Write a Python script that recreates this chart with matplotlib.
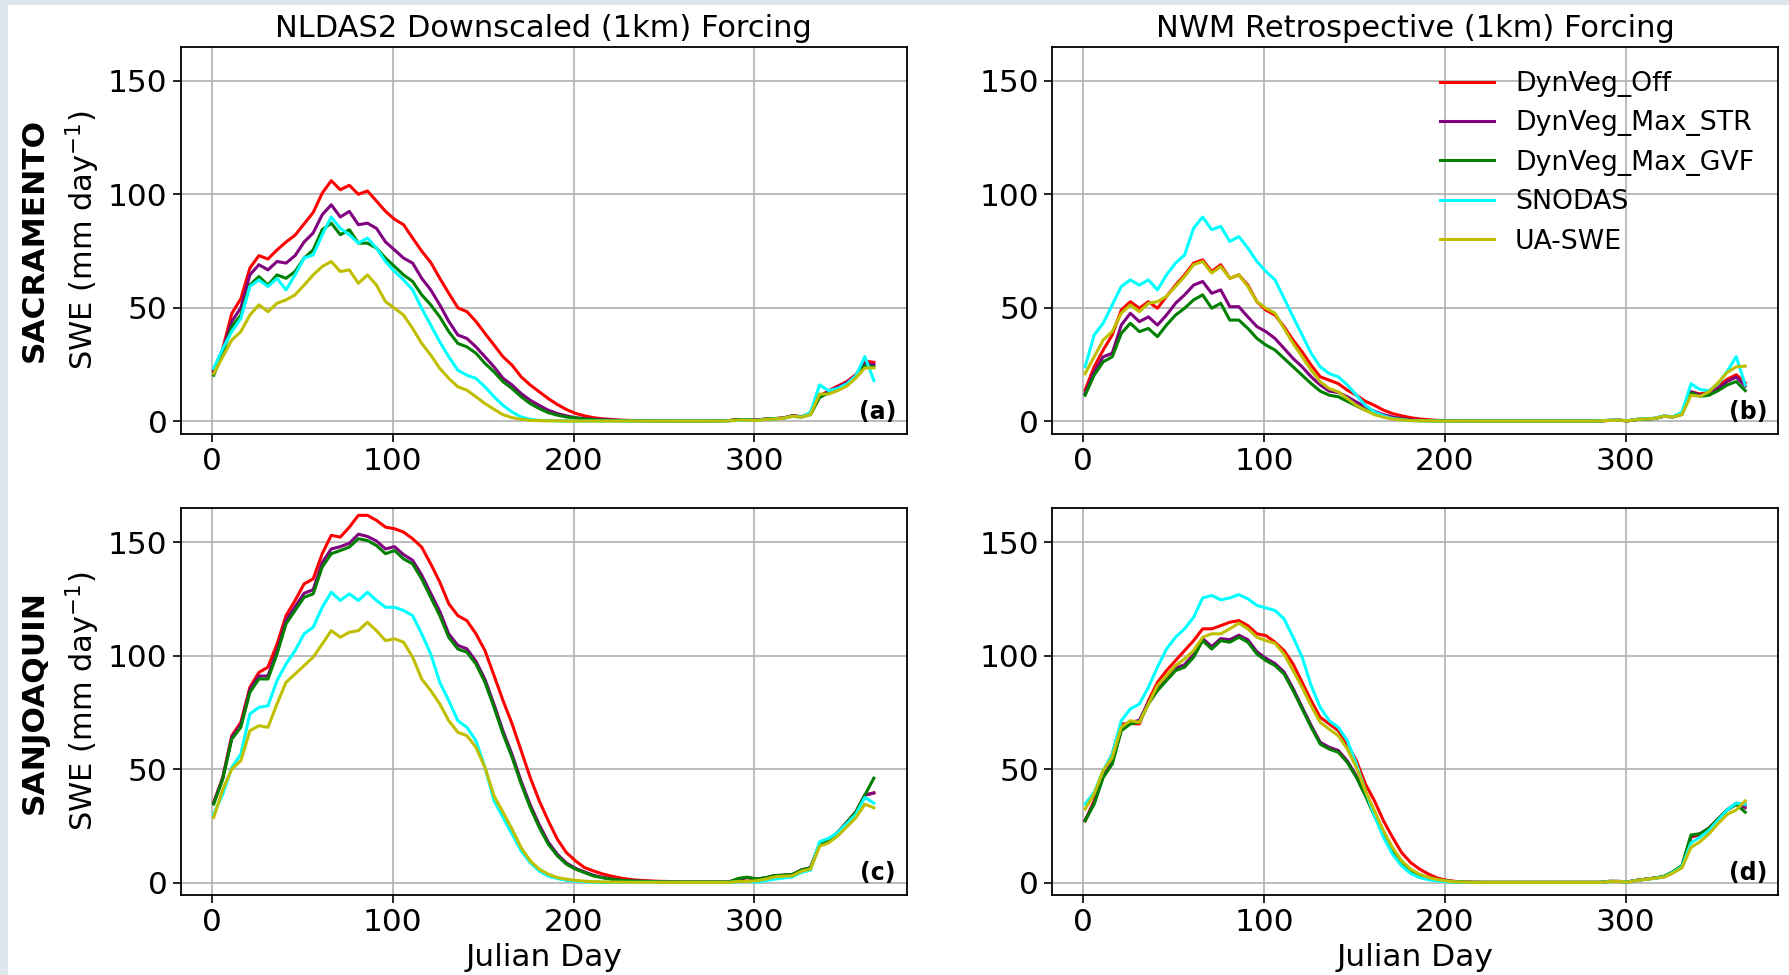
import numpy as np
import matplotlib
matplotlib.use("Agg")
import matplotlib.pyplot as plt
from matplotlib.patches import Rectangle

# Julian day of each sample (every 5th day)
days = np.arange(1, 367, 5)

series_names = ["DynVeg_Off", "DynVeg_Max_STR", "DynVeg_Max_GVF", "SNODAS", "UA-SWE"]
series_colors = ["red", "purple", "green", "cyan", "y"]
col_titles = ["NLDAS2 Downscaled (1km) Forcing", "NWM Retrospective (1km) Forcing"]
row_names = ["SACRAMENTO", "SANJOAQUIN"]
panel_tags = ["(a)", "(b)", "(c)", "(d)"]

# ---- SACRAMENTO, NLDAS2 forcing (a)
nld_sac_off = [22.5, 32, 47.5, 54, 67.5, 73, 71.5, 75.5, 79, 82, 87, 92, 100.5, 106, 102, 104, 100, 101.5, 97, 92.5,
               89, 86.6, 80.7, 75, 70, 63, 56.4, 50, 48.3, 44, 38.7, 33.6, 28.4, 24.7, 19.6, 16, 13, 10, 7.4, 5.2,
               3.5, 2.4, 1.6, 1.1, 0.8, 0.5, 0.4, 0.3, 0.2, 0.2, 0.1, 0.1, 0.1, 0.1, 0.1, 0.1, 0.2, 0.3,
               0.8, 0.6, 0.5, 1.0, 1.2, 1.5, 2.5, 2.0, 3.5, 11, 13.5, 15.5, 17.5, 20.5, 26.5, 26]
nld_sac_str = [21.8, 31, 44, 50, 64.5, 69, 66.7, 70.4, 69.7, 73, 79, 83, 91, 95.4, 90, 92.5, 86.6, 87.3, 85, 79,
               75.5, 71.9, 69.7, 63, 57.9, 51.3, 44, 38, 36.5, 32.8, 28.4, 24, 18.9, 16, 12.2, 9.3, 7, 4.9, 3.4, 2.4,
               1.6, 1.2, 0.9, 0.7, 0.5, 0.4, 0.3, 0.2, 0.2, 0.1, 0.1, 0.1, 0.1, 0.1, 0.1, 0.1, 0.2, 0.3,
               0.7, 0.6, 0.5, 0.9, 1.1, 1.4, 2.4, 2.0, 3.3, 11, 13, 15, 17, 20, 25.5, 25]
nld_sac_gvf = [20.3, 30, 41.7, 46.8, 60, 63.8, 60, 64.5, 63, 66, 71.9, 75.5, 84.4, 87.3, 82.2, 84.4, 78.5, 78.5, 76.3, 71.9,
               68.2, 64.5, 61.6, 55.7, 51.3, 46, 39.5, 34.3, 32.8, 30, 25.5, 21.8, 17.4, 14.4, 10.8, 7.8, 5.6, 3.8, 2.7, 1.9,
               1.5, 1.0, 0.7, 0.5, 0.4, 0.3, 0.2, 0.2, 0.1, 0.1, 0.1, 0.1, 0.1, 0.1, 0.1, 0.1, 0.2, 0.3,
               0.8, 0.7, 0.5, 1.0, 1.2, 1.4, 2.3, 1.9, 3.0, 10.5, 12.5, 14, 16, 19.5, 24.5, 24]
nld_sac_snodas = [23.3, 32, 39.5, 45.4, 59.4, 62.3, 59.4, 63, 57.9, 64.5, 71.9, 73.3, 82.2, 90, 85, 82.2, 78.5, 80.7, 76.3, 70.4,
                  66, 62.3, 57.9, 49.8, 42.4, 35, 28.4, 22.5, 20.3, 18.9, 15.2, 10.8, 7, 4.1, 1.9, 0.9, 0.4, 0.3, 0.2, 0.2,
                  0.1, 0.1, 0.1, 0.1, 0.1, 0.1, 0.1, 0.1, 0.1, 0.1, 0.1, 0.1, 0.1, 0.1, 0.1, 0.1, 0.1, 0.2,
                  0.4, 0.5, 0.3, 0.8, 1.0, 1.3, 2.2, 1.8, 4.0, 16, 13.5, 14.5, 16.5, 20, 28.5, 18]
nld_sac_ua = [21, 28.4, 35.8, 39.5, 46.8, 51.3, 48.3, 52, 53.5, 55.7, 60, 64.5, 68.2, 70.4, 66, 66.7, 60.8, 64.5, 60, 52.7,
              49.8, 46.8, 40.9, 34.3, 29.2, 23.3, 18.9, 15.2, 13.7, 10.8, 7.8, 5.3, 2.9, 1.6, 0.9, 0.4, 0.3, 0.2, 0.2, 0.1,
              0.1, 0.1, 0.1, 0.1, 0.1, 0.1, 0.1, 0.1, 0.1, 0.1, 0.1, 0.1, 0.1, 0.1, 0.1, 0.1, 0.1, 0.2,
              0.5, 0.5, 0.3, 0.8, 1.0, 1.3, 2.2, 1.8, 3.0, 12, 12, 13.5, 15.5, 19, 23.5, 23.5]

# ---- SACRAMENTO, NWM forcing (b)
nwm_sac_off = [13.7, 24, 31.4, 38, 49, 52.7, 49.8, 52.7, 49.8, 55, 60, 64.5, 69.7, 71.1, 66, 69, 63, 64.5, 60, 52.7,
               49, 46.8, 41.7, 35.8, 30.6, 24.7, 19.6, 18.1, 16.6, 13.7, 11.5, 8.8, 7, 4.9, 3.4, 2.4, 1.6, 1, 0.7, 0.4,
               0.3, 0.2, 0.2, 0.1, 0.1, 0.1, 0.1, 0.1, 0.1, 0.1, 0.1, 0.1, 0.1, 0.1, 0.1, 0.1, 0.1, 0.2,
               0.4, 0.5, 0.2, 0.8, 1.0, 1.3, 2.3, 2.0, 3.5, 13, 12, 13, 15.5, 18.5, 20.5, 17]
nwm_sac_str = [12.2, 21.8, 28.4, 30, 42.4, 47.6, 43.9, 46, 42.4, 46.8, 52, 55.7, 60, 61.6, 56.4, 57.9, 50.5, 50.5, 46, 41.7,
               39.5, 36.5, 32.1, 27.7, 24, 19.6, 16, 13.3, 12.7, 10.8, 8.5, 6.3, 4.4, 2.9, 1.9, 1.2, 0.7, 0.4, 0.3, 0.2,
               0.2, 0.1, 0.1, 0.1, 0.1, 0.1, 0.1, 0.1, 0.1, 0.1, 0.1, 0.1, 0.1, 0.1, 0.1, 0.1, 0.1, 0.2,
               0.4, 0.5, 0.2, 0.8, 1.0, 1.3, 2.2, 2.0, 3.3, 13, 11.5, 12.5, 14.5, 17.5, 19.5, 15.5]
nwm_sac_gvf = [11.5, 20.3, 26.2, 28.4, 38.7, 43.2, 39.5, 40.9, 37.3, 42.4, 46.8, 49.8, 53.5, 55.7, 49.8, 52, 44.6, 44.6, 40.9, 36.5,
               33.6, 31.4, 27.7, 24, 20.3, 16.6, 13.3, 11.5, 10.8, 8.8, 6.8, 4.9, 3.4, 2.2, 1.3, 0.9, 0.4, 0.3, 0.2, 0.2,
               0.1, 0.1, 0.1, 0.1, 0.1, 0.1, 0.1, 0.1, 0.1, 0.1, 0.1, 0.1, 0.1, 0.1, 0.1, 0.1, 0.1, 0.2,
               0.4, 0.5, 0.2, 0.8, 1.0, 1.2, 2.2, 1.9, 3.0, 12.5, 11, 11.5, 13.5, 16, 17.5, 13.5]
nwm_sac_snodas = [24, 38, 43.2, 51.3, 59.4, 62.3, 60, 62.3, 57.9, 64.5, 69.7, 73.3, 85.1, 90, 84.4, 85.9, 79.2, 81.4, 76.3, 70.4,
                  66, 62.3, 54.2, 46, 38, 29.9, 24, 21, 19.6, 16, 11.5, 7, 4.1, 2.4, 1.2, 0.7, 0.3, 0.2, 0.2, 0.1,
                  0.1, 0.1, 0.1, 0.1, 0.1, 0.1, 0.1, 0.1, 0.1, 0.1, 0.1, 0.1, 0.1, 0.1, 0.1, 0.1, 0.1, 0.2,
                  0.5, 0.5, 0.3, 0.9, 1.1, 1.4, 2.4, 2.0, 4.0, 16.5, 14, 13.5, 16.5, 22, 28.5, 16]
nwm_sac_ua = [21, 28.4, 35.8, 39.5, 47.6, 51.3, 48.3, 52, 52.7, 55, 59.4, 63.8, 69, 70.4, 65.3, 68.2, 63, 64.5, 59.4, 52.7,
              49.8, 47.6, 40.9, 34.3, 28.4, 22.5, 17.4, 14.4, 13, 10, 7, 4.9, 2.9, 1.8, 1, 0.6, 0.3, 0.2, 0.2, 0.1,
              0.1, 0.1, 0.1, 0.1, 0.1, 0.1, 0.1, 0.1, 0.1, 0.1, 0.1, 0.1, 0.1, 0.1, 0.1, 0.1, 0.1, 0.2,
              0.4, 0.5, 0.2, 0.8, 1.0, 1.3, 2.2, 1.9, 3.0, 11.5, 11, 13, 17, 21.5, 24, 24.3]

# ---- SANJOAQUIN, NLDAS2 forcing (c)
nld_sjq_off = [35.3, 46.3, 64.7, 70.6, 86, 92.6, 94.9, 105, 117.6, 124.3, 131.6, 133.8, 144.9, 153, 152.2, 156.6, 161.8, 161.8, 159.6, 156.6,
               155.9, 154.4, 151.5, 147.8, 140.4, 132.4, 122.8, 117.6, 115.4, 109.6, 102.2, 91.2, 80.1, 69.9, 58.1, 46.3, 36, 27.2, 19.1, 13.2,
               9.6, 6.6, 5.1, 3.8, 2.8, 2.0, 1.4, 1.0, 0.8, 0.6, 0.5, 0.4, 0.3, 0.3, 0.3, 0.3, 0.3, 0.3,
               1.5, 2.2, 1.5, 2.0, 3.0, 3.2, 3.5, 5.5, 6.5, 17, 19, 22, 26.5, 31, 38.5, 39.5]
nld_sjq_str = [35, 46, 64, 69.5, 85, 91, 91, 102, 115.5, 121.5, 127.5, 129, 141, 147, 148, 149.5, 153.5, 152.5, 150.5, 147,
               148, 144.5, 142, 135.5, 127.5, 119.5, 109.5, 104.5, 103, 97.5, 89.5, 78.5, 66.7, 56.4, 44.6, 34.3, 25.5, 17.8, 12.5, 8.6,
               6.3, 4.7, 3.2, 2.3, 1.6, 1.1, 0.8, 0.6, 0.5, 0.4, 0.3, 0.3, 0.3, 0.3, 0.3, 0.3, 0.3, 0.3,
               1.5, 2.2, 1.5, 2.0, 3.0, 3.2, 3.5, 5.5, 6.5, 17, 19, 22, 26.5, 31, 38.5, 39.5]
nld_sjq_gvf = [34.6, 45.6, 63.2, 68.4, 83.8, 89.7, 89.7, 100.7, 114, 119.9, 125.7, 127.2, 139, 144.9, 146.3, 147.8, 151.5, 150.7, 148.5, 144.9,
               146.3, 142.6, 140.4, 133.8, 125.7, 117.6, 108, 102.9, 101.5, 96.3, 88.2, 77.2, 65.4, 55.1, 43.4, 33.1, 24.3, 16.9, 11.8, 8.1,
               5.9, 4.4, 2.9, 2.1, 1.5, 1.0, 0.8, 0.6, 0.5, 0.4, 0.3, 0.3, 0.3, 0.3, 0.3, 0.3, 0.3, 0.3,
               1.8, 2.4, 1.6, 2.1, 3.1, 3.3, 3.6, 5.6, 6.5, 17, 19, 22, 26.5, 31, 38.5, 46]
nld_sjq_snodas = [30.1, 39, 50.7, 56.6, 74.3, 77.2, 77.9, 89, 96.3, 102.2, 109.6, 112.5, 121.3, 127.9, 124.3, 127.2, 124.3, 127.9, 124.3, 121.3,
                  121.3, 119.9, 117.6, 109.6, 100.7, 88.2, 80.1, 71.3, 68.4, 62.5, 50.7, 36, 28.7, 21.3, 14, 8.8, 5.1, 2.9, 1.8, 1,
                  0.6, 0.3, 0.2, 0.1, 0.1, 0.1, 0.1, 0.1, 0.1, 0.1, 0.1, 0.1, 0.1, 0.1, 0.1, 0.1, 0.1, 0.1,
                  0.3, 0.5, 0.2, 0.8, 1.5, 2.0, 2.5, 4.5, 5.5, 18, 19.5, 22, 26, 30, 37.5, 35]
nld_sjq_ua = [28.7, 41, 50, 53.7, 66.9, 69.1, 68.4, 78.7, 88.2, 91.9, 95.6, 99.3, 105.1, 111, 108.1, 110.3, 111, 114.7, 111, 106.6,
              107.4, 105.9, 99.3, 89.7, 84.6, 78.7, 71.3, 66.2, 64.7, 59.6, 50.7, 38.2, 30.9, 23.5, 15.4, 9.6, 5.9, 3.7, 2.2, 1.5,
              1, 0.6, 0.4, 0.3, 0.2, 0.2, 0.1, 0.1, 0.1, 0.1, 0.1, 0.1, 0.1, 0.1, 0.1, 0.1, 0.1, 0.1,
              0.5, 0.5, 0.8, 1.5, 2.5, 2.8, 3.0, 5.0, 6.0, 16, 17.5, 20.5, 24.5, 28.5, 34.5, 33]

# ---- SANJOAQUIN, NWM forcing (d)
nwm_sjq_off = [27.2, 36, 48.5, 56.6, 69.9, 70.1, 69.9, 80.1, 88.2, 93.4, 97.8, 102.2, 106.6, 111.8, 111.8, 113.2, 114.7, 115.4, 113.2, 109.6,
               108.8, 105.9, 102.2, 96.3, 88.2, 80.1, 72.8, 69.9, 66.9, 61, 53.7, 43.4, 36, 27.2, 19.9, 13.2, 8.8, 5.9, 3.7, 1.9,
               1, 0.5, 0.3, 0.2, 0.1, 0.1, 0.1, 0.1, 0.1, 0.1, 0.1, 0.1, 0.1, 0.1, 0.1, 0.1, 0.1, 0.1,
               0.5, 0.5, 0.3, 1.0, 1.5, 2.0, 2.5, 4.5, 7, 20, 21, 24, 28, 32, 35, 34.5]
nwm_sjq_str = [27.5, 35, 47, 53, 67.5, 70.5, 71.5, 79.5, 85.5, 90, 94.5, 96, 100.5, 107.5, 104, 107.5, 107, 109, 107, 101.7,
               98.8, 96.5, 92.8, 85.5, 77.3, 69.2, 61.8, 59.6, 58.2, 53.6, 47, 38.8, 29.9, 21.7, 14.3, 9, 5.2, 3.3, 1.9, 1.2,
               0.7, 0.3, 0.2, 0.1, 0.1, 0.1, 0.1, 0.1, 0.1, 0.1, 0.1, 0.1, 0.1, 0.1, 0.1, 0.1, 0.1, 0.1,
               0.5, 0.5, 0.3, 1.0, 1.5, 2.0, 2.5, 4.5, 7, 20.5, 21.5, 24, 28, 32, 34.5, 33]
nwm_sjq_gvf = [27.2, 34.6, 46.3, 52.2, 66.9, 69.9, 70.6, 78.7, 84.6, 89, 93.4, 94.9, 99.3, 106.6, 102.9, 106.6, 105.9, 108.1, 105.9, 100.7,
               97.8, 95.6, 91.9, 84.6, 76.5, 68.4, 61, 58.8, 57.4, 52.9, 46.3, 38.2, 29.4, 21.3, 14, 8.8, 5.1, 3.2, 1.9, 1.2,
               0.7, 0.3, 0.2, 0.1, 0.1, 0.1, 0.1, 0.1, 0.1, 0.1, 0.1, 0.1, 0.1, 0.1, 0.1, 0.1, 0.1, 0.1,
               0.6, 0.5, 0.3, 1.0, 1.5, 2.0, 2.8, 4.8, 7.5, 21, 21.5, 24, 28, 32, 34.5, 31]
nwm_sjq_snodas = [34.6, 39.7, 49.3, 56.6, 71.3, 76.5, 78.7, 86, 94.9, 102.9, 108.1, 111.8, 116.9, 125.4, 126.5, 124.6, 125.4, 126.9, 125, 122.1,
                  121, 119.9, 116.2, 108.1, 99.3, 86.8, 77.2, 71.3, 68.4, 62.5, 52.2, 40.4, 29.4, 19.9, 12.5, 7.4, 4, 2.2, 1.2, 0.7,
                  0.3, 0.2, 0.1, 0.1, 0.1, 0.1, 0.1, 0.1, 0.1, 0.1, 0.1, 0.1, 0.1, 0.1, 0.1, 0.1, 0.1, 0.1,
                  0.4, 0.5, 0.2, 0.9, 1.4, 1.9, 2.5, 4.5, 7, 17.5, 20, 23, 27.5, 32, 35, 34.5]
nwm_sjq_ua = [32.4, 39, 49.3, 55.1, 68.4, 71.3, 70.6, 78.7, 86.8, 91.2, 95.6, 98.5, 102.2, 108.1, 109.6, 109.6, 111.8, 114.3, 111.8, 108.1,
              106.6, 105.4, 100.7, 93.4, 86, 77.9, 70.6, 67.6, 64.7, 58.8, 50.7, 40.4, 31.6, 22.8, 15.4, 9.6, 5.9, 3.7, 2.2, 1.3,
              0.7, 0.3, 0.2, 0.1, 0.1, 0.1, 0.1, 0.1, 0.1, 0.1, 0.1, 0.1, 0.1, 0.1, 0.1, 0.1, 0.1, 0.1,
              0.4, 0.5, 0.2, 0.9, 1.4, 1.9, 2.4, 4.2, 6.5, 15.5, 18, 21.5, 26, 30, 32, 36]

panel_data = [
    [nld_sac_off, nld_sac_str, nld_sac_gvf, nld_sac_snodas, nld_sac_ua],
    [nwm_sac_off, nwm_sac_str, nwm_sac_gvf, nwm_sac_snodas, nwm_sac_ua],
    [nld_sjq_off, nld_sjq_str, nld_sjq_gvf, nld_sjq_snodas, nld_sjq_ua],
    [nwm_sjq_off, nwm_sjq_str, nwm_sjq_gvf, nwm_sjq_snodas, nwm_sjq_ua],
]

fig, axes = plt.subplots(2, 2, figsize=(17.89, 9.75), dpi=100)
fig.patch.set_facecolor("#dfe6ee")
fig.add_artist(Rectangle((8 / 1789, 0), 1, 1 - 5 / 975, transform=fig.transFigure,
                         facecolor="white", edgecolor="none", zorder=-10))
fig.subplots_adjust(left=0.101, right=0.994, bottom=0.082, top=0.952, wspace=0.2, hspace=0.192)

for k, ax in enumerate(axes.flat):
    r, c = divmod(k, 2)
    for vals, name, col in zip(panel_data[k], series_names, series_colors):
        ax.plot(days, vals, color=col, lw=2.2, label=name)
    ax.set_ylim(-5.5, 165)
    ax.set_yticks([0, 50, 100, 150])
    ax.set_xticks([0, 100, 200, 300])
    ax.grid(True, color="#b0b0b0", lw=1.2)
    ax.set_axisbelow(True)
    ax.tick_params(labelsize=22.5, length=6, width=1.2)
    for sp in ax.spines.values():
        sp.set_linewidth(1.3)
    ax.text(0.985, 0.025, panel_tags[k], transform=ax.transAxes, ha="right", va="bottom",
            fontsize=17, fontweight="bold")
    if r == 0:
        ax.set_title(col_titles[c], fontsize=22, pad=7)
    else:
        ax.set_xlabel("Julian Day", fontsize=22.5)
    if c == 0:
        ax.text(-0.201, 0.5, row_names[r], transform=ax.transAxes, rotation=90,
                ha="center", va="center", fontsize=22.5, fontweight="bold")
        ax.text(-0.135, 0.5, "SWE (mm day$^{-1}$)", transform=ax.transAxes, rotation=90,
                ha="center", va="center", fontsize=22)

axes[0, 1].legend(loc="upper right", frameon=False, fontsize=19.3, handlelength=2.0)

fig.savefig("out.png", dpi=100)
